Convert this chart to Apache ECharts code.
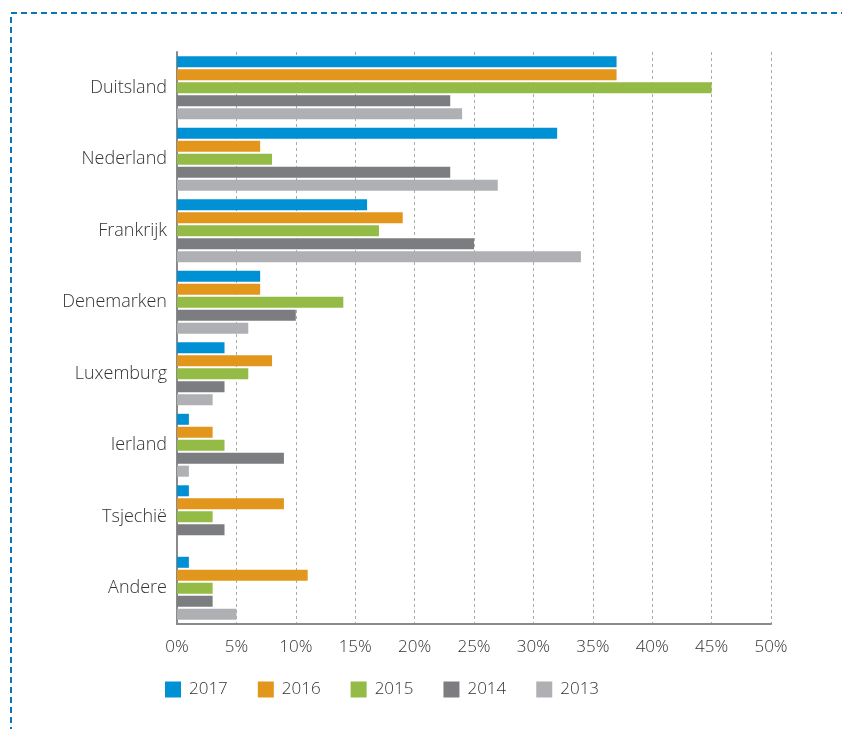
<!DOCTYPE html>
<html>
<head>
<meta charset="utf-8">
<script src="https://cdn.jsdelivr.net/npm/echarts@6/dist/echarts.min.js"></script>
<style>
  html, body { margin: 0; padding: 0; background: #fff; }
  #main { width: 842px; height: 729px; }
</style>
</head>
<body>
<div id="main"></div>
<script>
// landen (van boven naar onder)
var landen = ['Duitsland', 'Nederland', 'Frankrijk', 'Denemarken', 'Luxemburg', 'Ierland', 'Tsjechië', 'Andere'];
var jaren = ['2017', '2016', '2015', '2014', '2013'];
var kleuren = ['#0091d5', '#e2961b', '#93bb45', '#7c7d80', '#afb0b3'];

// aandeel per jaar in %
var data2017 = [37, 32, 16, 7, 4, 1, 1, 1];
var data2016 = [37, 7, 19, 7, 8, 3, 9, 11];
var data2015 = [45, 8, 17, 14, 6, 4, 3, 3];
var data2014 = [23, 23, 25, 10, 4, 9, 4, 3];
var data2013 = [24, 27, 34, 6, 3, 1, 0, 5];
var reeksen = [data2017, data2016, data2015, data2014, data2013];

var xTicks = [0, 5, 10, 15, 20, 25, 30, 35, 40, 45, 50];

var myChart = echarts.init(document.getElementById('main'));

var font = '"Open Sans", sans-serif';

myChart.setOption({
    animation: false,
    textStyle: { fontFamily: font },
    graphic: [{
        type: 'rect',
        shape: { x: 11, y: 13, width: 900, height: 800 },
        style: { fill: 'none', stroke: '#0a74b8', lineWidth: 2, lineDash: [6, 4] },
        silent: true
    }],
    legend: {
        data: jaren,
        left: 160,
        top: 676,
        icon: 'rect',
        itemWidth: 16,
        itemHeight: 16,
        itemGap: 30,
        textStyle: { fontSize: 17, color: '#333', fontFamily: font, fontWeight: 300, padding: [0, 0, 0, 3] }
    },
    grid: { left: 177, right: 71, top: 52, bottom: 105, containLabel: false },
    xAxis: {
        type: 'value',
        min: xTicks[0],
        max: xTicks[xTicks.length - 1],
        interval: 5,
        axisLine: { show: true, lineStyle: { color: '#8a8a8a', width: 2 } },
        axisTick: { show: false },
        axisLabel: { formatter: '{value}%', fontSize: 17, color: '#333', margin: 15, fontFamily: font, fontWeight: 300 }
    },
    yAxis: {
        type: 'category',
        data: landen,
        inverse: true,
        axisLine: { show: true, lineStyle: { color: '#8a8a8a', width: 2 } },
        axisTick: { show: false },
        axisLabel: { fontSize: 18, color: '#333', margin: 10, fontFamily: font, fontWeight: 300, padding: [6, 0, 0, 0] }
    },
    series: jaren.map(function (jaar, i) {
        return {
            name: jaar,
            type: 'bar',
            data: reeksen[i],
            barWidth: 11,
            barGap: '18%',
            itemStyle: { color: kleuren[i] }
        };
    })
});
// verticale stippellijnen
myChart.setOption({
    xAxis: { splitLine: { show: true, lineStyle: { color: '#aaa', type: [3, 3], width: 1 } } }
});
</script>
</body>
</html>
